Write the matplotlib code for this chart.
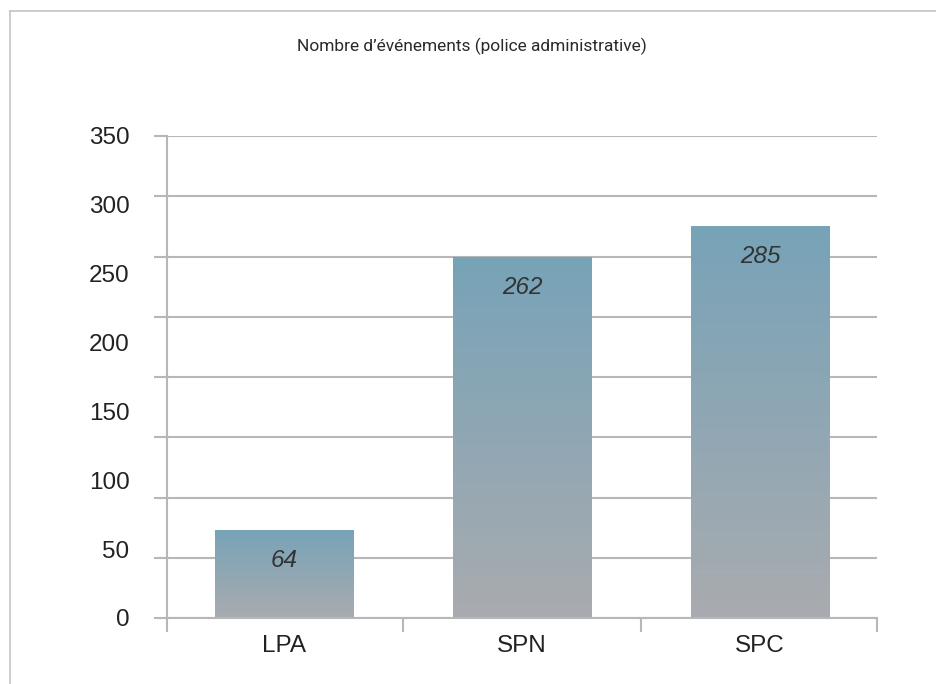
import numpy as np
import matplotlib
matplotlib.use('Agg')
from matplotlib import pyplot as plt
from matplotlib.colors import LinearSegmentedColormap
from matplotlib.lines import Line2D

categories = ["LPA", "SPN", "SPC"]
values = [64, 262, 285]
y_ticks = [0, 50, 100, 150, 200, 250, 300, 350]
title = "Nombre d\u2019événements (police administrative)"

GRID = "#b5b7ba"
TEXT = "#222222"


def plot_events():
    plt.rcParams['font.family'] = ['Liberation Sans', 'DejaVu Sans']
    fig = plt.figure(figsize=(9.37, 6.84), dpi=100)
    ax = fig.add_axes([167 / 937, 1 - 618 / 684, 710 / 937, 482 / 684])

    # frame around the chart (top and left visible)
    fig.add_artist(Line2D([10 / 937, 1], [1 - 11 / 684, 1 - 11 / 684],
                          transform=fig.transFigure, color="#c4c4c4", lw=1.2))
    fig.add_artist(Line2D([10 / 937, 10 / 937], [0, 1 - 11 / 684],
                          transform=fig.transFigure, color="#c4c4c4", lw=1.2))

    fig.text(472 / 937, 1 - 46 / 684, title, ha="center", va="center",
             fontsize=12.5, color="#2a2a2a", family=["Roboto", "DejaVu Sans"])

    cmap = LinearSegmentedColormap.from_list("bar", ["#a9abaf", "#77a3b8"])
    gradient = np.linspace(0, 1, 256).reshape(-1, 1)
    width = 0.58
    x = np.arange(len(categories))
    bars = ax.bar(x, values, width=width, color="none", zorder=2)
    for bar, v in zip(bars, values):
        x0 = bar.get_x()
        im = ax.imshow(gradient, extent=[x0, x0 + width, 0, v], origin="lower",
                       aspect="auto", cmap=cmap, zorder=2)
        im.set_clip_path(bar)
        ax.annotate(str(v), (bar.get_x() + width / 2, v), xytext=(0, -22),
                    textcoords="offset points", ha="center", va="center",
                    fontsize=17.5, style="italic", color="#333333", zorder=3)

    ax.set_xlim(-0.49, 2.49)
    ax.set_ylim(0, 350)

    # y labels at 50 steps, gridlines split into 8 bands
    ax.yaxis.remove_overlapping_locs = False
    ax.set_yticks(y_ticks)
    ax.set_yticklabels([str(t) for t in y_ticks])
    ax.set_yticks(np.linspace(0, 350, 9), minor=True)
    ax.tick_params(axis="y", which="major", length=0, pad=27, labelsize=17.5, labelcolor=TEXT)
    ax.tick_params(axis="y", which="minor", length=9.5, width=1.5, color=GRID)
    ax.grid(axis="y", which="minor", color=GRID, lw=1.5)
    ax.grid(axis="y", which="major", visible=False)
    ax.set_axisbelow(True)

    ax.set_xticks(x)
    ax.set_xticklabels(categories)
    ax.set_xticks([-0.49, 0.5, 1.5, 2.49], minor=True)
    ax.tick_params(axis="x", which="major", length=0, pad=12, labelsize=17.5, labelcolor=TEXT)
    ax.tick_params(axis="x", which="minor", length=10, width=1.5, color=GRID)

    for side in ["top", "right"]:
        ax.spines[side].set_visible(False)
    for side in ["left", "bottom"]:
        ax.spines[side].set_color(GRID)
        ax.spines[side].set_linewidth(1.5)

    plt.savefig("out.png", dpi=100)


if __name__ == "__main__":
    plot_events()
